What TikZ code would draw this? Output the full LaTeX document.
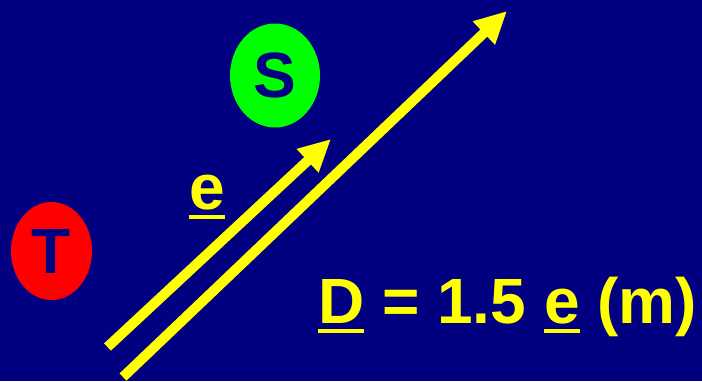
\documentclass[tikz,border=0pt]{standalone}
\usepackage{fontspec}
\setmainfont{Liberation Sans}
\usetikzlibrary{positioning, shapes.geometric, arrows.meta}
\definecolor{dgNavy}{HTML}{000080}
\definecolor{dgYellow}{HTML}{FFFF00}
\definecolor{dgRed}{HTML}{FF0000}
\definecolor{dgGreen}{HTML}{00FF00}
\newcommand{\ulbar}[1]{\setbox0\hbox{#1}\rlap{\rule[-10pt]{\wd0}{4pt}}\box0\relax}

\begin{document}
\begin{tikzpicture}[
  x=1pt, y=-1pt,
  bigtext/.style={font=\fontsize{64}{70}\selectfont\bfseries, inner sep=0pt},
  ball/.style={ellipse, bigtext, text=dgNavy},
  arr/.style={-{Triangle[length=32pt, width=30pt]}, line width=10pt, draw=dgYellow}
]
\fill[dgNavy] (0,0) rectangle (702,381);
\useasboundingbox (0,0) rectangle (702,381);

\node[ball, fill=dgRed, minimum width=81pt, minimum height=98pt] (tx) at (51.5,251) {T};
\node[ball, fill=dgGreen, minimum width=90pt, minimum height=104pt] (rx) at (275,75.5) {S};

\coordinate (eStart) at (107.5,347);
\coordinate (eEnd) at (331,139);
\coordinate (dStart) at (123,377);
\coordinate (dEnd) at (507,11);

\draw[arr] (eStart) -- (eEnd);
\draw[arr] (dStart) -- (dEnd);

\node[bigtext, text=dgYellow, anchor=base west] (elabel) at (189,209) {\ulbar{e}};
\node[bigtext, text=dgYellow, anchor=base west] (dlabel) at (318,323) {\ulbar{D} = 1.5 \ulbar{e} (m)};
\end{tikzpicture}
\end{document}
